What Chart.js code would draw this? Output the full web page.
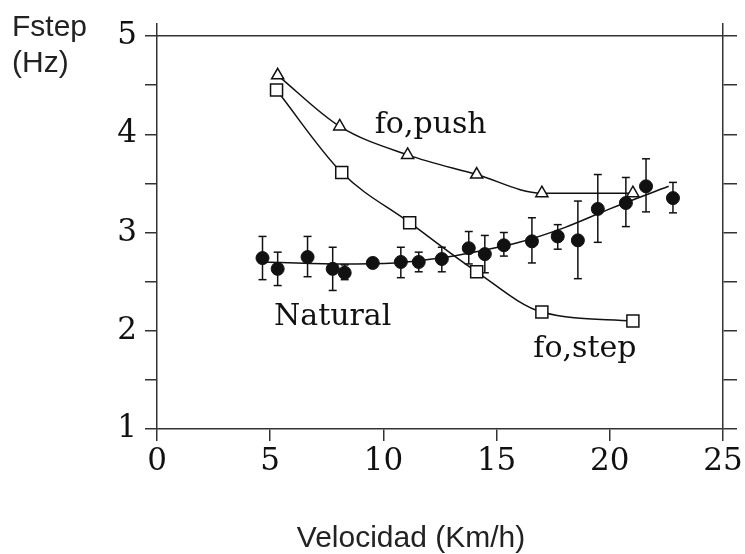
<!DOCTYPE html>
<html>
<head>
<meta charset="utf-8">
<title>Fstep vs Velocidad</title>
<script src="https://cdn.jsdelivr.net/npm/chart.js@4.4.1/dist/chart.umd.min.js"></script>
<style>
  html, body { margin: 0; padding: 0; background: #fff; }
  #wrap { width: 745px; height: 554px; }
</style>
</head>
<body>
<div id="wrap"><canvas id="chart" width="745" height="554"></canvas></div>
<script>
// fo,push (open triangles)
const pushX = [5.33, 8.07, 11.07, 14.12, 17.0, 21.02];
const pushY = [4.60, 4.08, 3.79, 3.59, 3.40, 3.40];

// fo,step (open squares)
const stepX = [5.28, 8.16, 11.16, 14.12, 17.0, 21.02];
const stepY = [4.45, 3.61, 3.10, 2.60, 2.19, 2.10];

// Natural (filled circles) with error bar ends, null = no bar
const natX  = [4.66, 5.33, 6.65, 7.76, 8.29, 9.53, 10.77, 11.56, 12.58, 13.77, 14.48, 15.32, 16.56, 17.70, 18.59, 19.47, 20.71, 21.60, 22.79];
const natY  = [2.74, 2.63, 2.75, 2.63, 2.59, 2.69, 2.70, 2.70, 2.73, 2.84, 2.78, 2.87, 2.91, 2.96, 2.92, 3.24, 3.30, 3.47, 3.35];
const natHi = [2.96, 2.80, 2.96, 2.85, 2.67, null, 2.85, 2.80, 2.85, 3.01, 2.97, 3.00, 3.15, 3.08, 3.32, 3.59, 3.56, 3.75, 3.51];
const natLo = [2.52, 2.46, 2.55, 2.41, 2.52, null, 2.54, 2.60, 2.60, 2.68, 2.59, 2.76, 2.69, 2.83, 2.53, 2.90, 3.06, 3.21, 3.20];

// fitted curve through the natural points
const natFitX = [4.7, 8.0, 10.5, 12.5, 14.0, 16.0, 18.0, 20.0, 22.6];
const natFitY = [2.70, 2.68, 2.69, 2.74, 2.80, 2.90, 3.05, 3.24, 3.47];

// axes
const xTickValues = [0, 5, 10, 15, 20, 25];
const yTickValues = [1, 1.5, 2, 2.5, 3, 3.5, 4, 4.5, 5];
const yTickLabels = ['1', '', '2', '', '3', '', '4', '', '5'];

// curve names, placed in data units
const curveLabels = ['fo,push', 'Natural', 'fo,step'];
const curveLabelX = [12.09, 7.76, 18.9];
const curveLabelY = [4.01, 2.06, 1.73];

const ink = '#111';
const axisColor = '#333';

function points(xs, ys) {
    return xs.map((x, i) => ({ x: x, y: ys[i] }));
}

// one small line dataset per error bar, caps drawn as 'line' points
const errorBars = natX.map((x, i) => {
    if (natHi[i] == null) return null;
    return {
        type: 'line',
        data: [{ x: x, y: natLo[i] }, { x: x, y: natHi[i] }],
        showLine: true,
        borderColor: ink,
        borderWidth: 1.5,
        pointStyle: 'line',
        pointRadius: 4,
        pointBorderWidth: 1.5,
        pointBorderColor: ink
    };
}).filter(Boolean);

const figureText = {
    id: 'figureText',
    afterDraw(chart) {
        const ctx = chart.ctx;
        const xs = chart.scales.x, ys = chart.scales.y;
        ctx.save();
        ctx.fillStyle = ink;
        ctx.textBaseline = 'alphabetic';
        ctx.textAlign = 'center';
        ctx.font = '30px "DejaVu Serif"';
        curveLabels.forEach((t, i) => {
            ctx.fillText(t, xs.getPixelForValue(curveLabelX[i]), ys.getPixelForValue(curveLabelY[i]));
        });
        ctx.font = '30px "Liberation Sans"';
        ctx.fillStyle = '#222';
        ctx.textAlign = 'left';
        ctx.fillText('Fstep', 12, 36);
        ctx.fillText('(Hz)', 12, 72);
        ctx.textAlign = 'center';
        ctx.fillText('Velocidad (Km/h)', 411, 547);
        ctx.restore();
    }
};

function frameAxis(extra) {
    return Object.assign({
        type: 'linear',
        grid: { drawOnChartArea: false, color: axisColor, lineWidth: 1.5, tickWidth: 1.5 },
        border: { color: axisColor, width: 1.5 }
    }, extra);
}

new Chart(document.getElementById('chart').getContext('2d'), {
    type: 'scatter',
    data: {
        datasets: [{
            label: 'Natural',
            data: points(natX, natY),
            pointStyle: 'circle',
            pointRadius: 6.5,
            backgroundColor: ink,
            borderColor: ink,
            showLine: false
        }, {
            label: 'fo,push',
            data: points(pushX, pushY),
            showLine: true,
            cubicInterpolationMode: 'monotone',
            borderColor: ink,
            borderWidth: 1.5,
            pointStyle: 'triangle',
            pointRadius: 7,
            pointBackgroundColor: '#fff',
            pointBorderColor: ink,
            pointBorderWidth: 1.5
        }, {
            label: 'fo,step',
            data: points(stepX, stepY),
            showLine: true,
            cubicInterpolationMode: 'monotone',
            borderColor: ink,
            borderWidth: 1.5,
            pointStyle: 'rect',
            pointRadius: 8.5,
            pointBackgroundColor: '#fff',
            pointBorderColor: ink,
            pointBorderWidth: 1.5
        }, ...errorBars, {
            label: 'Natural fit',
            data: points(natFitX, natFitY),
            showLine: true,
            cubicInterpolationMode: 'monotone',
            borderColor: ink,
            borderWidth: 1.5,
            pointRadius: 0
        }]
    },
    options: {
        responsive: false,
        animation: false,
        layout: { padding: 0 },
        plugins: {
            legend: { display: false },
            tooltip: { enabled: false }
        },
        scales: {
            x: frameAxis({
                position: 'bottom',
                min: 0, max: 25,
                afterBuildTicks: s => { s.ticks = xTickValues.map(v => ({ value: v })); },
                afterFit: s => { s.height = 125; },
                grid: { drawOnChartArea: false, color: axisColor, lineWidth: 1.5, tickLength: 12 },
                ticks: { font: { family: 'DejaVu Serif', size: 31 }, color: ink, padding: 2, maxRotation: 0, autoSkip: false }
            }),
            x2: frameAxis({
                position: 'top',
                min: 0, max: 25,
                afterBuildTicks: s => { s.ticks = [{ value: 0 }, { value: 25 }]; },
                afterFit: s => { s.height = 36; },
                grid: { drawOnChartArea: false, color: axisColor, lineWidth: 1.5, tickLength: 13 },
                ticks: { display: false }
            }),
            y: frameAxis({
                position: 'left',
                min: 1, max: 5,
                afterBuildTicks: s => { s.ticks = yTickValues.map(v => ({ value: v })); },
                afterFit: s => { s.width = 157; },
                grid: { drawOnChartArea: false, color: axisColor, lineWidth: 1.5, tickLength: 12 },
                ticks: {
                    font: { family: 'DejaVu Serif', size: 31 }, color: ink, padding: 8, autoSkip: false,
                    callback: (v, i) => yTickLabels[i]
                }
            }),
            y2: frameAxis({
                position: 'right',
                min: 1, max: 5,
                afterBuildTicks: s => { s.ticks = yTickValues.map(v => ({ value: v })); },
                afterFit: s => { s.width = 22; },
                grid: { drawOnChartArea: false, color: axisColor, lineWidth: 1.5, tickLength: 14 },
                ticks: { display: false }
            })
        }
    },
    plugins: [figureText]
});
</script>
</body>
</html>
